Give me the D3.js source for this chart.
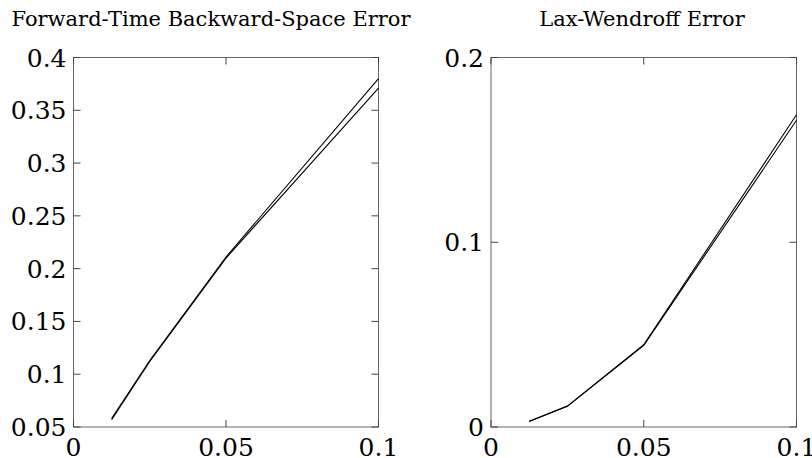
<!DOCTYPE html>
<html>
<head>
<meta charset="utf-8">
<script src="https://cdn.jsdelivr.net/npm/d3@7"></script>
<style>
  body { margin: 0; background: #fff; }
  text { font-family: "DejaVu Serif", serif; fill: #000; }
</style>
</head>
<body>
<div id="chart"></div>
<script>
// step sizes (x) shared by both panels
const steps = [0.0125, 0.025, 0.05, 0.1]

// forward-time backward-space error, two runs
const ftbs_a = [0.058, 0.113, 0.211, 0.380]
const ftbs_b = [0.057, 0.112, 0.210, 0.371]

// lax-wendroff error, two runs
const lw_a = [0.0031, 0.0113, 0.0445, 0.169]
const lw_b = [0.0030, 0.0112, 0.0442, 0.166]

const xTicks = [0, 0.05, 0.1]
const ftbsTicks = [0.05, 0.1, 0.15, 0.2, 0.25, 0.3, 0.35, 0.4]
const lwTicks = [0, 0.1, 0.2]

const width = 812
const height = 458

const svg = d3.select("#chart")
    .append("svg")
    .attr("width", width)
    .attr("height", height)

function drawPanel(cfg) {
    const x = d3.scaleLinear().domain([0, 0.1]).range([cfg.left, cfg.right])
    const y = d3.scaleLinear().domain(cfg.ydomain).range([427, 57.5])

    const g = svg.append("g")

    // frame
    g.append("rect")
        .attr("x", x(0))
        .attr("y", y(cfg.ydomain[1]))
        .attr("width", x(0.1) - x(0))
        .attr("height", y(cfg.ydomain[0]) - y(cfg.ydomain[1]))
        .attr("fill", "none")
        .attr("stroke", "#666")
        .attr("stroke-width", 1)

    const tickLen = 7

    // x ticks, bottom and top, inward
    xTicks.forEach(t => {
        g.append("line")
            .attr("x1", x(t)).attr("x2", x(t))
            .attr("y1", y(cfg.ydomain[0])).attr("y2", y(cfg.ydomain[0]) - tickLen)
            .attr("stroke", "#444")
        g.append("line")
            .attr("x1", x(t)).attr("x2", x(t))
            .attr("y1", y(cfg.ydomain[1])).attr("y2", y(cfg.ydomain[1]) + tickLen)
            .attr("stroke", "#444")
        g.append("text")
            .attr("x", x(t))
            .attr("y", 456)
            .attr("text-anchor", "middle")
            .attr("font-size", 25)
            .text(t)
    })

    // y ticks, left and right, inward
    cfg.yticks.forEach(t => {
        g.append("line")
            .attr("x1", x(0)).attr("x2", x(0) + tickLen)
            .attr("y1", y(t)).attr("y2", y(t))
            .attr("stroke", "#444")
        g.append("line")
            .attr("x1", x(0.1)).attr("x2", x(0.1) - tickLen)
            .attr("y1", y(t)).attr("y2", y(t))
            .attr("stroke", "#444")
        g.append("text")
            .attr("x", x(0) - 7)
            .attr("y", y(t))
            .attr("dy", "0.36em")
            .attr("text-anchor", "end")
            .attr("font-size", 25)
            .text(t)
    })

    const line = d3.line()
        .x((d, i) => x(steps[i]))
        .y(d => y(d))

    cfg.series.forEach(s => {
        g.append("path")
            .datum(s)
            .attr("d", line)
            .attr("fill", "none")
            .attr("stroke", "#000")
            .attr("stroke-width", 1.1)
    })

    g.append("text")
        .attr("x", cfg.titleX)
        .attr("y", 26)
        .attr("text-anchor", "middle")
        .attr("font-size", 21)
        .text(cfg.title)
}

drawPanel({
    left: 73.5, right: 378.5,
    ydomain: [0.05, 0.4],
    yticks: ftbsTicks,
    series: [ftbs_a, ftbs_b],
    title: "Forward-Time Backward-Space Error",
    titleX: 211
})

drawPanel({
    left: 491, right: 796.5,
    ydomain: [0, 0.2],
    yticks: lwTicks,
    series: [lw_a, lw_b],
    title: "Lax-Wendroff Error",
    titleX: 642
})
</script>
</body>
</html>
